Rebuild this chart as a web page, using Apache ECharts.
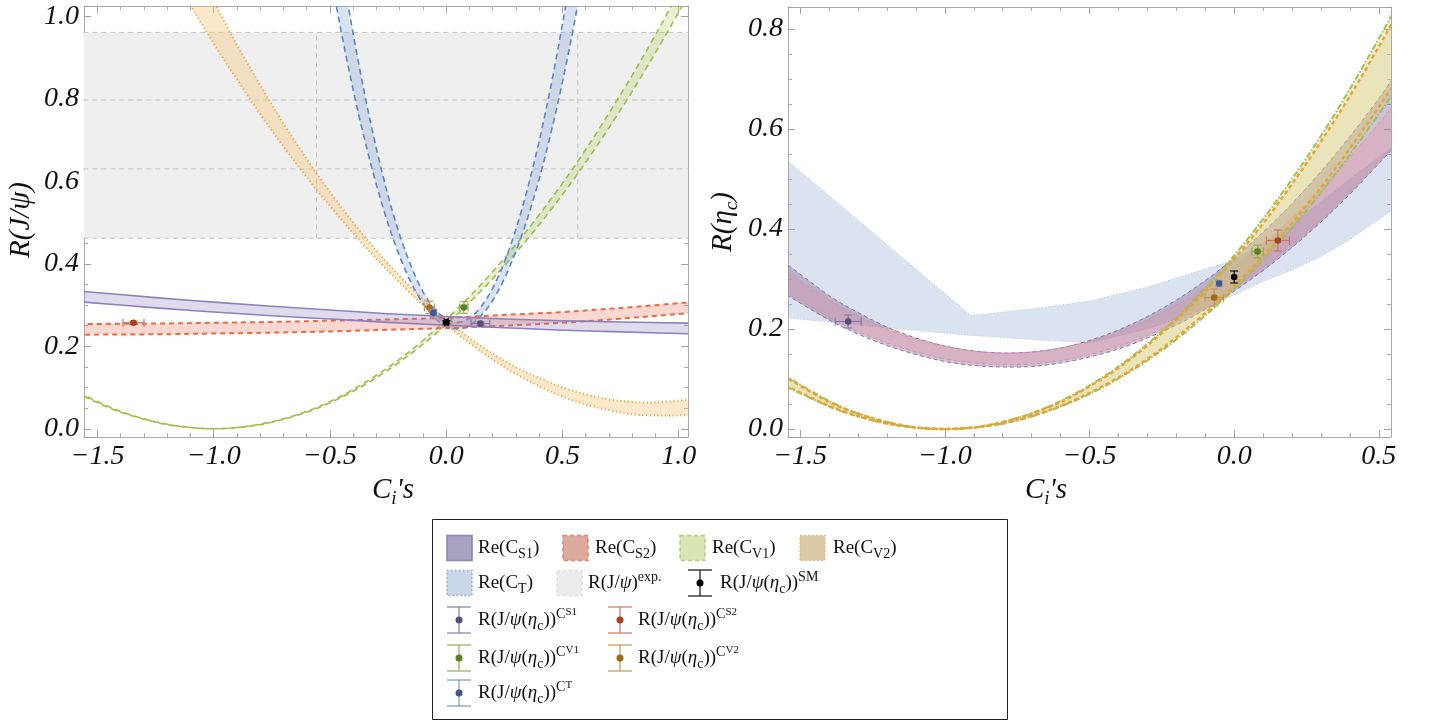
<!DOCTYPE html>
<html>
<head>
<meta charset="utf-8">
<title>R(J/ψ) and R(ηc) versus the NP couplings</title>
<script src="https://cdn.jsdelivr.net/npm/echarts@6.0.0/dist/echarts.min.js"></script>
<style>
html, body { margin: 0; padding: 0; background: #fff; }
#chart { width: 1440px; height: 726px; }
</style>
</head>
<body>
<div id="chart"></div>
<script>
// ---------- values ----------
// left panel: R(J/psi)
const jpsiS1X  = [-1.58, -1.25, -1.0, -0.75, -0.5, -0.25, 0, 0.25, 0.5, 0.75, 1.06];
const jpsiS1Lo = [0.308, 0.293, 0.283, 0.274, 0.266, 0.258, 0.251, 0.245, 0.239, 0.235, 0.230];
const jpsiS1Hi = [0.334, 0.318, 0.307, 0.297, 0.288, 0.279, 0.272, 0.266, 0.262, 0.259, 0.256];
const jpsiS2Lo = [0.228, 0.229, 0.231, 0.233, 0.236, 0.240, 0.244, 0.250, 0.257, 0.267, 0.281];
const jpsiS2Hi = [0.254, 0.255, 0.257, 0.259, 0.262, 0.265, 0.269, 0.276, 0.283, 0.293, 0.307];

const jpsiV1X  = [-1.58, -1.5, -1.4, -1.3, -1.2, -1.1, -1.0, -0.9, -0.8, -0.7, -0.6, -0.5, -0.4, -0.3,
                  -0.2, -0.1, 0, 0.1, 0.2, 0.3, 0.4, 0.5, 0.6, 0.7, 0.8, 0.9, 1.0, 1.06];
const jpsiV1Lo = [0.085, 0.063, 0.040, 0.023, 0.010, 0.003, 0.000, 0.003, 0.010, 0.023, 0.040, 0.063, 0.091, 0.124,
                  0.162, 0.205, 0.253, 0.306, 0.364, 0.427, 0.495, 0.568, 0.646, 0.730, 0.818, 0.912, 1.010, 1.072];
const jpsiV1Hi = [0.089, 0.066, 0.042, 0.024, 0.011, 0.003, 0.000, 0.003, 0.011, 0.024, 0.042, 0.066, 0.095, 0.130,
                  0.169, 0.214, 0.265, 0.320, 0.381, 0.447, 0.519, 0.595, 0.677, 0.765, 0.857, 0.955, 1.058, 1.123];

const jpsiV2X  = [-1.1, -1.0, -0.9, -0.8, -0.7, -0.6, -0.5, -0.4, -0.3, -0.2, -0.1, 0,
                  0.1, 0.2, 0.3, 0.4, 0.5, 0.6, 0.7, 0.8, 0.9, 1.0, 1.06];
const jpsiV2Lo = [1.026, 0.934, 0.847, 0.763, 0.684, 0.610, 0.540, 0.474, 0.412, 0.354, 0.300, 0.252,
                  0.208, 0.168, 0.133, 0.103, 0.078, 0.059, 0.045, 0.035, 0.032, 0.032, 0.036];
const jpsiV2Hi = [1.146, 1.036, 0.931, 0.833, 0.740, 0.654, 0.574, 0.500, 0.432, 0.370, 0.314, 0.264,
                  0.220, 0.182, 0.149, 0.123, 0.100, 0.083, 0.071, 0.065, 0.064, 0.068, 0.073];

const jpsiTX  = [-0.5, -0.45, -0.4, -0.35, -0.3, -0.25, -0.2, -0.15, -0.1, -0.05, 0, 0.05,
                 0.1, 0.15, 0.2, 0.25, 0.3, 0.35, 0.4, 0.45, 0.5, 0.55, 0.6];
const jpsiTLo = [1.110, 0.958, 0.821, 0.699, 0.591, 0.497, 0.418, 0.353, 0.304, 0.269, 0.248, 0.242,
                 0.250, 0.274, 0.311, 0.364, 0.430, 0.511, 0.606, 0.716, 0.841, 0.981, 1.135];
const jpsiTHi = [1.304, 1.122, 0.957, 0.809, 0.679, 0.565, 0.470, 0.393, 0.332, 0.291, 0.266, 0.258,
                 0.268, 0.296, 0.341, 0.404, 0.484, 0.583, 0.698, 0.830, 0.981, 1.149, 1.335];

// experimental R(J/psi) band and its dashed guide lines
const expX = [-1.6, 1.1];
const expLo = [0.462, 0.462];
const expHi = [0.961, 0.961];
const expLevels = [0.462, 0.630, 0.797, 0.961];
const expVLines = [-0.558, 0.566];

// right panel: R(eta_c)
const etacX   = [-1.56, -1.4, -1.3, -1.2, -1.1, -1.0, -0.9, -0.8, -0.7, -0.6, -0.5, -0.4, -0.3,
                 -0.2, -0.1, 0, 0.1, 0.2, 0.3, 0.4, 0.5, 0.56];
const etacS1Lo = [0.273, 0.218, 0.190, 0.167, 0.149, 0.135, 0.127, 0.124, 0.125, 0.132, 0.144, 0.160, 0.182,
                  0.208, 0.239, 0.276, 0.317, 0.363, 0.414, 0.470, 0.531, 0.568];
const etacS1Hi = [0.336, 0.267, 0.233, 0.204, 0.182, 0.166, 0.156, 0.152, 0.154, 0.162, 0.177, 0.198, 0.225,
                  0.258, 0.297, 0.342, 0.394, 0.451, 0.515, 0.585, 0.661, 0.712];
const etacS2Lo = [0.278, 0.223, 0.195, 0.172, 0.154, 0.140, 0.132, 0.129, 0.130, 0.137, 0.149, 0.165, 0.187,
                  0.213, 0.244, 0.281, 0.322, 0.368, 0.419, 0.475, 0.536, 0.573];
const etacS2Hi = [0.319, 0.258, 0.226, 0.200, 0.180, 0.166, 0.156, 0.152, 0.154, 0.162, 0.175, 0.194, 0.218,
                  0.248, 0.283, 0.324, 0.370, 0.422, 0.480, 0.543, 0.611, 0.655];
const etacV1Lo = [0.088, 0.045, 0.025, 0.011, 0.003, 0.000, 0.003, 0.011, 0.025, 0.045, 0.070, 0.101, 0.137,
                  0.179, 0.227, 0.280, 0.339, 0.403, 0.473, 0.549, 0.630, 0.681];
const etacV1Hi = [0.109, 0.056, 0.031, 0.014, 0.003, 0.000, 0.003, 0.014, 0.031, 0.056, 0.087, 0.125, 0.170,
                  0.222, 0.281, 0.347, 0.420, 0.500, 0.586, 0.680, 0.781, 0.844];
const etacV2Lo = [0.090, 0.046, 0.026, 0.011, 0.003, 0.000, 0.003, 0.011, 0.026, 0.046, 0.072, 0.103, 0.140,
                  0.183, 0.232, 0.286, 0.346, 0.412, 0.483, 0.561, 0.644, 0.696];
const etacV2Hi = [0.107, 0.054, 0.031, 0.014, 0.003, 0.000, 0.003, 0.014, 0.031, 0.054, 0.085, 0.122, 0.167,
                  0.218, 0.275, 0.340, 0.411, 0.490, 0.575, 0.666, 0.765, 0.827];

const etacTX  = [-1.56, -1.3, -1.1, -0.91, -0.7, -0.5, -0.3, -0.1, 0.0, 0.1, 0.2, 0.3, 0.4, 0.56];
const etacTLo = [0.223, 0.208, 0.197, 0.187, 0.179, 0.172, 0.200, 0.240, 0.268, 0.295, 0.318, 0.345, 0.379, 0.443];
const etacTHi = [0.545, 0.418, 0.320, 0.227, 0.240, 0.256, 0.284, 0.320, 0.338, 0.370, 0.410, 0.455, 0.500, 0.570];

// points with error bars: SM, C_S1, C_S2, C_V1, C_V2, C_T
const ptKeys   = ['SM', 'S1', 'S2', 'V1', 'V2', 'T'];
const jpsiPtX  = [0.0, 0.147, -1.345, 0.076, -0.072, -0.055];
const jpsiPtY  = [0.258, 0.255, 0.257, 0.294, 0.294, 0.281];
const jpsiPtDx = [0.008, 0.040, 0.045, 0.018, 0.022, 0.012];
const jpsiPtDy = [0.004, 0.004, 0.004, 0.014, 0.015, 0.008];
const etacPtX  = [0.0, -1.334, 0.151, 0.081, -0.069, -0.052];
const etacPtY  = [0.304, 0.215, 0.377, 0.355, 0.263, 0.291];
const etacPtDx = [0.0, 0.045, 0.040, 0.020, 0.032, 0.006];
const etacPtDy = [0.012, 0.013, 0.021, 0.013, 0.017, 0.005];

// ---------- styling ----------
const FONT = 'Liberation Serif';
const dotColor = { SM: '#000000', S1: '#574d7c', S2: '#ad3f22', V1: '#5b7f22', V2: '#a26a16', T: '#3c5b8e' };
const barColor = { SM: '#111111', S1: '#857ca6', S2: '#c9765e', V1: '#97ab62', V2: '#c49552', T: '#7f95bd' };

function splinePath(p) {
  let d = '';
  for (let i = 0; i < p.length - 1; i++) {
    const p0 = p[i - 1] || p[i], p1 = p[i], p2 = p[i + 1], p3 = p[i + 2] || p[i + 1];
    d += ' C' + (p1[0] + (p2[0] - p0[0]) / 6) + ' ' + (p1[1] + (p2[1] - p0[1]) / 6) + ' ' +
         (p2[0] - (p3[0] - p1[0]) / 6) + ' ' + (p2[1] - (p3[1] - p1[1]) / 6) + ' ' + p2[0] + ' ' + p2[1];
  }
  return d;
}
function linePath(p) {
  let d = '';
  for (let i = 1; i < p.length; i++) d += ' L' + p[i][0] + ' ' + p[i][1];
  return d;
}

function bandSeries(name, gi, xs, lo, hi, st) {
  return {
    type: 'custom', name: name, xAxisIndex: gi * 2, yAxisIndex: gi * 2,
    data: xs.map((x, i) => [x, lo[i], hi[i]]),
    encode: { x: 0, y: [1, 2] },
    clip: true, silent: true, z: st.z || 2,
    renderItem: function (params, api) {
      if (params.dataIndex !== 0) return null;
      const curve = st.linear ? linePath : splinePath;
      const top = xs.map((x, i) => api.coord([x, hi[i]]));
      const bot = xs.map((x, i) => api.coord([x, lo[i]])).reverse();
      const children = [{
        type: 'path',
        shape: { pathData: 'M' + top[0][0] + ' ' + top[0][1] + curve(top) +
                           ' L' + bot[0][0] + ' ' + bot[0][1] + curve(bot) + ' Z' },
        style: { fill: st.fill, stroke: null }
      }];
      if (st.line) {
        [top, bot].forEach(function (pts) {
          children.push({
            type: 'path',
            shape: { pathData: 'M' + pts[0][0] + ' ' + pts[0][1] + curve(pts) },
            style: { fill: null, stroke: st.line, lineWidth: st.width, lineDash: st.dash || null }
          });
        });
      }
      return { type: 'group', children: children };
    }
  };
}

function pointSeries(key, gi, x, y, dx, dy) {
  return {
    type: 'custom', name: key, xAxisIndex: gi * 2, yAxisIndex: gi * 2,
    data: [[x, y, dx, dy]], encode: { x: 0, y: 1 }, z: 10, silent: true,
    renderItem: function (params, api) {
      const px = api.value(0), py = api.value(1), ex = api.value(2), ey = api.value(3);
      const c = api.coord([px, py]);
      const st = { stroke: barColor[key], lineWidth: 1.2 };
      const ch = [];
      if (ey > 0) {
        const t = api.coord([px, py + ey]), b = api.coord([px, py - ey]);
        ch.push({ type: 'line', shape: { x1: t[0], y1: t[1], x2: b[0], y2: b[1] }, style: st });
        ch.push({ type: 'line', shape: { x1: t[0] - 4, y1: t[1], x2: t[0] + 4, y2: t[1] }, style: st });
        ch.push({ type: 'line', shape: { x1: b[0] - 4, y1: b[1], x2: b[0] + 4, y2: b[1] }, style: st });
      }
      if (ex > 0) {
        const l = api.coord([px - ex, py]), r = api.coord([px + ex, py]);
        ch.push({ type: 'line', shape: { x1: l[0], y1: l[1], x2: r[0], y2: r[1] }, style: st });
        ch.push({ type: 'line', shape: { x1: l[0], y1: l[1] - 4, x2: l[0], y2: l[1] + 4 }, style: st });
        ch.push({ type: 'line', shape: { x1: r[0], y1: r[1] - 4, x2: r[0], y2: r[1] + 4 }, style: st });
      }
      ch.push({ type: 'circle', shape: { cx: c[0], cy: c[1], r: 3.3 }, style: { fill: dotColor[key] } });
      return { type: 'group', children: ch };
    }
  };
}

function guideLine(xs, ys) {
  return {
    type: 'line', xAxisIndex: 0, yAxisIndex: 0, data: xs.map((x, i) => [x, ys[i]]),
    symbol: 'none', silent: true, z: 1,
    lineStyle: { color: '#c3c3c3', width: 1, type: [5, 4] }
  };
}

function labelFmt(step) {
  return function (v) {
    const k = v / step;
    if (Math.abs(k - Math.round(k)) > 1e-6) return '';
    return v.toFixed(1).replace('-', '\u2212');
  };
}

function axis(gi, min, max, position, withLabel, step, minorN, margin) {
  return {
    type: 'value', gridIndex: gi, min: min, max: max, position: position, splitNumber: 5,
    axisLine: { show: true, onZero: false, lineStyle: { color: '#a9a9a9', width: 1 } },
    axisTick: { show: true, inside: true, length: 7, lineStyle: { color: '#a3a3a3', width: 1 } },
    minorTick: { show: true, splitNumber: minorN, length: 4, lineStyle: { color: '#acacac', width: 1 } },
    splitLine: { show: false },
    minorSplitLine: { show: false },
    axisLabel: {
      show: withLabel, margin: margin, hideOverlap: false,
      fontFamily: FONT, fontStyle: 'italic', fontSize: 28, color: '#111',
      formatter: labelFmt(step)
    }
  };
}

// ---------- series ----------
const series = [];
series.push(bandSeries('R(J/psi) exp', 0, expX, expLo, expHi, { fill: '#efefef', linear: true, z: 1 }));
expLevels.forEach(v => series.push(guideLine(expX, [v, v])));
expVLines.forEach(x => series.push(guideLine([x, x], [expLevels[0], expLevels[3]])));

series.push(bandSeries('Re(CV2)', 0, jpsiV2X, jpsiV2Lo, jpsiV2Hi,
  { fill: 'rgba(246,196,122,0.38)', line: '#eda53e', width: 2, dash: [1.2, 2.6] }));
series.push(bandSeries('Re(CV1)', 0, jpsiV1X, jpsiV1Lo, jpsiV1Hi,
  { fill: 'rgba(178,207,106,0.30)', line: '#9dbf47', width: 1.6, dash: [6, 4] }));
series.push(bandSeries('Re(CT)', 0, jpsiTX, jpsiTLo, jpsiTHi,
  { fill: 'rgba(125,158,210,0.30)', line: '#5b87c7', width: 1.6, dash: [6, 4] }));
series.push(bandSeries('Re(CS2)', 0, jpsiS1X, jpsiS2Lo, jpsiS2Hi,
  { fill: 'rgba(238,122,100,0.30)', line: '#ec6a43', width: 2, dash: [5, 4] }));
series.push(bandSeries('Re(CS1)', 0, jpsiS1X, jpsiS1Lo, jpsiS1Hi,
  { fill: 'rgba(142,124,186,0.28)', line: '#8e80bd', width: 1.6 }));

series.push(bandSeries('Re(CT)', 1, etacTX, etacTLo, etacTHi,
  { fill: 'rgba(150,172,212,0.34)', line: '#bcc9e0', width: 1, dash: [1, 2], linear: true }));
series.push(bandSeries('Re(CS1)', 1, etacX, etacS1Lo, etacS1Hi,
  { fill: 'rgba(118,86,146,0.36)', line: '#8c74a8', width: 1, dash: [4, 3] }));
series.push(bandSeries('Re(CS2)', 1, etacX, etacS2Lo, etacS2Hi,
  { fill: 'rgba(232,142,150,0.30)', line: '#d9959c', width: 1, dash: [4, 3] }));
series.push(bandSeries('Re(CV1)', 1, etacX, etacV1Lo, etacV1Hi,
  { fill: 'rgba(196,206,120,0.30)', line: '#9fbf50', width: 2, dash: [6, 2, 1.5, 2] }));
series.push(bandSeries('Re(CV2)', 1, etacX, etacV2Lo, etacV2Hi,
  { fill: 'rgba(222,196,110,0.28)', line: '#eba232', width: 2.4, dash: [4, 3] }));

ptKeys.forEach((k, i) => series.push(pointSeries(k, 0, jpsiPtX[i], jpsiPtY[i], jpsiPtDx[i], jpsiPtDy[i])));
ptKeys.forEach((k, i) => series.push(pointSeries(k, 1, etacPtX[i], etacPtY[i], etacPtDx[i], etacPtDy[i])));

// ---------- legend & axis titles (graphic) ----------
const RICH = {
  n:   { fontFamily: FONT, fontSize: 19, fill: '#111', lineHeight: 26 },
  ni:  { fontFamily: FONT, fontSize: 19, fontStyle: 'italic', fill: '#111', lineHeight: 26 },
  sub: { fontFamily: FONT, fontSize: 14, fill: '#111', lineHeight: 14, verticalAlign: 'bottom' },
  sup: { fontFamily: FONT, fontSize: 14, fill: '#111', lineHeight: 14, verticalAlign: 'top' },
  sup2:{ fontFamily: FONT, fontSize: 11, fill: '#111', lineHeight: 19, verticalAlign: 'top' }
};
const AX = {
  a: { fontFamily: FONT, fontSize: 29, fontStyle: 'italic', fill: '#111', lineHeight: 36 },
  s: { fontFamily: FONT, fontSize: 19, fontStyle: 'italic', fill: '#111', lineHeight: 19, verticalAlign: 'bottom' }
};

function txt(x, y, text, rich) {
  return { type: 'text', x: x, y: y, silent: true,
    style: { text: text, rich: rich || RICH, align: 'left', verticalAlign: 'middle', fill: '#111' } };
}
function swatch(x, cy, fill, stroke, dash) {
  return { type: 'rect', silent: true, shape: { x: x, y: cy - 12.5, width: 25, height: 25 },
    style: { fill: fill, stroke: stroke, lineWidth: 1.6, lineDash: dash || null } };
}
function ebIcon(cx, cy, key) {
  const st = { stroke: barColor[key], lineWidth: 1.2 };
  return { type: 'group', silent: true, children: [
    { type: 'line', shape: { x1: cx - 12, y1: cy - 13, x2: cx + 12, y2: cy - 13 }, style: st },
    { type: 'line', shape: { x1: cx - 12, y1: cy + 13, x2: cx + 12, y2: cy + 13 }, style: st },
    { type: 'line', shape: { x1: cx, y1: cy - 13, x2: cx, y2: cy + 13 }, style: st },
    { type: 'circle', shape: { cx: cx, cy: cy, r: 3.5 }, style: { fill: dotColor[key] } }
  ] };
}
const RJ = '{n|R(J/}{ni|ψ}{n|(}{ni|η}{sub|c}{n|))}';

const graphics = [
  { type: 'rect', silent: true, shape: { x: 432.5, y: 519.5, width: 575, height: 200 },
    style: { fill: '#fff', stroke: '#222', lineWidth: 1 } },
  swatch(447, 548, '#aaa3c2', '#8e84b6'),
  txt(478, 548, '{n|Re(C}{sub|S1}{n|)}'),
  swatch(563, 548, '#dcab9d', '#e08870', [4, 3]),
  txt(595, 548, '{n|Re(C}{sub|S2}{n|)}'),
  swatch(680, 548, '#d9e6b3', '#b7cf84', [4, 3]),
  txt(712, 548, '{n|Re(C}{sub|V1}{n|)}'),
  swatch(800, 548, '#dccaa6', '#e5b86c', [1.5, 2.5]),
  txt(833, 548, '{n|Re(C}{sub|V2}{n|)}'),
  swatch(447, 583, '#c9d5e9', '#8fa6cc', [1.5, 2.5]),
  txt(478, 583, '{n|Re(C}{sub|T}{n|)}'),
  swatch(557, 583, '#ececec', '#dedede', [3, 3]),
  txt(588, 583, '{n|R(J/}{ni|ψ}{n|)}{sup|exp.}'),
  ebIcon(700, 583, 'SM'),
  txt(720, 583, RJ + '{sup|SM}'),
  ebIcon(459, 620, 'S1'),
  txt(478, 620, RJ + '{sup|C}{sup2|S1}'),
  ebIcon(620, 620, 'S2'),
  txt(638, 620, RJ + '{sup|C}{sup2|S2}'),
  ebIcon(459, 658, 'V1'),
  txt(478, 658, RJ + '{sup|C}{sup2|V1}'),
  ebIcon(620, 658, 'V2'),
  txt(638, 658, RJ + '{sup|C}{sup2|V2}'),
  ebIcon(459, 693, 'T'),
  txt(478, 693, RJ + '{sup|C}{sup2|T}'),
  // axis titles
  { type: 'text', x: 21, y: 220, rotation: Math.PI / 2, silent: true,
    style: { text: '{a|R(J/ψ)}', rich: AX, align: 'center', verticalAlign: 'middle' } },
  { type: 'text', x: 723, y: 222, rotation: Math.PI / 2, silent: true,
    style: { text: '{a|R(η}{s|c}{a|)}', rich: AX, align: 'center', verticalAlign: 'middle' } },
  { type: 'text', x: 393, y: 490, silent: true,
    style: { text: "{a|C}{s|i}{a|'s}", rich: AX, align: 'center', verticalAlign: 'middle' } },
  { type: 'text', x: 1046, y: 490, silent: true,
    style: { text: "{a|C}{s|i}{a|'s}", rich: AX, align: 'center', verticalAlign: 'middle' } }
];

// ---------- chart ----------
const chart = echarts.init(document.getElementById('chart'), null, { renderer: 'canvas' });
chart.setOption({
  animation: false,
  backgroundColor: '#ffffff',
  grid: [
    { left: 84, top: 6, width: 604, height: 431, outerBoundsMode: 'none', containLabel: false },
    { left: 788, top: 7, width: 603, height: 430, outerBoundsMode: 'none', containLabel: false }
  ],
  xAxis: [
    axis(0, -1.558, 1.04, 'bottom', true, 0.5, 5, 6),
    axis(0, -1.558, 1.04, 'top', false, 0.5, 5, 6),
    axis(1, -1.542, 0.542, 'bottom', true, 0.5, 5, 6),
    axis(1, -1.542, 0.542, 'top', false, 0.5, 5, 6)
  ],
  yAxis: [
    axis(0, -0.02, 1.025, 'left', true, 0.2, 4, 5),
    axis(0, -0.02, 1.025, 'right', false, 0.2, 4, 5),
    axis(1, -0.016, 0.844, 'left', true, 0.2, 4, 5),
    axis(1, -0.016, 0.844, 'right', false, 0.2, 4, 5)
  ],
  series: series,
  graphic: graphics
});
</script>
</body>
</html>
